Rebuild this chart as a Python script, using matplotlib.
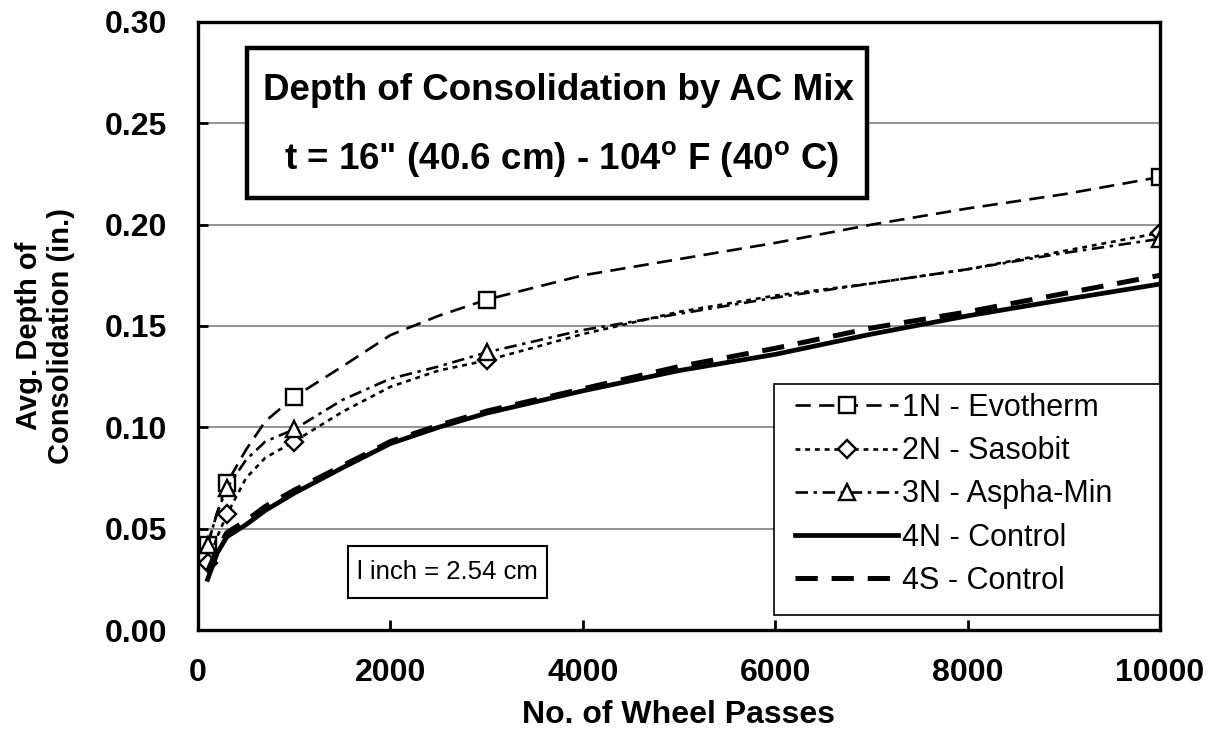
import matplotlib
matplotlib.use("Agg")
import matplotlib.pyplot as plt
from matplotlib.patches import Rectangle

plt.rcParams['font.family'] = ['Liberation Sans', 'DejaVu Sans']
plt.rcParams['mathtext.fontset'] = 'custom'
plt.rcParams['mathtext.rm'] = 'Liberation Sans:bold'
plt.rcParams['mathtext.it'] = 'Liberation Sans:bold'
plt.rcParams['mathtext.bf'] = 'Liberation Sans:bold'
plt.rcParams['lines.scale_dashes'] = False

# Wheel passes and average consolidation depth (in.) for each mix
passes = [100, 200, 300, 500, 700, 1000, 1500, 2000, 2500, 3000,
          4000, 5000, 6000, 7000, 8000, 9000, 10000]
evotherm_1n = [0.042, 0.058, 0.0725, 0.089, 0.103, 0.115, 0.130, 0.1455, 0.155, 0.163,
               0.175, 0.183, 0.191, 0.200, 0.208, 0.215, 0.2235]
sasobit_2n = [0.033, 0.046, 0.057, 0.075, 0.085, 0.093, 0.1076, 0.120, 0.128, 0.133,
              0.146, 0.157, 0.165, 0.171, 0.178, 0.187, 0.196]
asphamin_3n = [0.042, 0.058, 0.070, 0.084, 0.093, 0.099, 0.1135, 0.124, 0.130, 0.137,
               0.148, 0.156, 0.164, 0.171, 0.178, 0.186, 0.193]
control_4n = [0.025, 0.038, 0.046, 0.052, 0.059, 0.0675, 0.080, 0.092, 0.100, 0.107,
              0.118, 0.128, 0.136, 0.146, 0.155, 0.163, 0.1707]
control_4s = [0.029, 0.040, 0.048, 0.054, 0.061, 0.069, 0.081, 0.093, 0.101, 0.108,
              0.119, 0.130, 0.139, 0.149, 0.157, 0.166, 0.175]
# measured passes that carry a marker
marker_idx = [0, 2, 5, 9, 16]

x_ticks = [0, 2000, 4000, 6000, 8000, 10000]
y_ticks = [0.00, 0.05, 0.10, 0.15, 0.20, 0.25, 0.30]

W, H = 1217, 740
fig = plt.figure(figsize=(W / 100, H / 100), dpi=100)
ax = fig.add_axes([198 / W, 1 - 630 / H, 962 / W, 608 / H])

ax.set_xlim(0, 10000)
ax.set_ylim(0, 0.30)
ax.yaxis.grid(True, color='#808080', lw=1.2)
ax.set_axisbelow(True)

mk = dict(markerfacecolor='white', markeredgecolor='black', markeredgewidth=1.7,
          markevery=marker_idx)
ax.plot(passes, evotherm_1n, color='black', lw=1.9, dashes=(11, 6), marker='s',
        markersize=11.5, label='1N - Evotherm', **mk)
ax.plot(passes, sasobit_2n, color='black', lw=1.9, dashes=(3.5, 3.5), marker='D',
        markersize=9, label='2N - Sasobit', **mk)
ax.plot(passes, asphamin_3n, color='black', lw=1.9, dashes=(9, 4, 2.5, 4), marker='^',
        markersize=11.5, label='3N - Aspha-Min', **mk)
ax.plot(passes, control_4n, color='black', lw=3.4, label='4N - Control')
ax.plot(passes, control_4s, color='black', lw=3.6, dashes=(16, 10), label='4S - Control')

ax.set_xticks(x_ticks)
ax.set_xticklabels([f"{v:d}" for v in x_ticks])
ax.set_yticks(y_ticks)
ax.set_yticklabels([f"{v:.2f}" for v in y_ticks])
ax.tick_params(axis='both', direction='in', length=7, width=2, labelsize=23, colors='black')
ax.tick_params(axis='x', pad=20)
ax.tick_params(axis='y', pad=22)
for lab in ax.get_xticklabels() + ax.get_yticklabels():
    lab.set_fontweight('bold')
for sp in ax.spines.values():
    sp.set_linewidth(2.4)
    sp.set_color('black')

fig.text(679 / W, 1 - 715 / H, 'No. of Wheel Passes', ha='center', va='center',
         fontsize=23, fontweight='bold')
fig.text(45 / W, 1 - 336 / H, 'Avg. Depth of\nConsolidation (in.)', ha='center',
         va='center', rotation=90, fontsize=21, fontweight='bold', linespacing=1.22)

# Title box
ax.add_patch(Rectangle((0.0509, 0.7105), 0.6445, 0.2467, transform=ax.transAxes,
                       facecolor='white', edgecolor='black', lw=3.2, zorder=5,
                       clip_on=False))
ax.text(0.375, 0.888, 'Depth of Consolidation by AC Mix', transform=ax.transAxes,
        ha='center', va='center', fontsize=26.5, fontweight='bold', zorder=6)
ax.text(0.378, 0.775, "t = 16\" (40.6 cm) - 104$^{\\mathrm{o}}$ F (40$^{\\mathrm{o}}$ C)",
        transform=ax.transAxes, ha='center', va='center', fontsize=26.5,
        fontweight='bold', zorder=6)

# Unit conversion note
ax.add_patch(Rectangle((0.156, 0.0526), 0.2069, 0.0855, transform=ax.transAxes,
                       facecolor='white', edgecolor='black', lw=1.5, zorder=5))
ax.text(0.156 + 0.2069 / 2, 0.0526 + 0.0855 / 2, 'l inch = 2.54 cm',
        transform=ax.transAxes, ha='center', va='center', fontsize=18.5, zorder=6)

# Legend panel: white box with the entries laid out inside it
ax.add_patch(Rectangle((0.5988, 0.0247), 0.4012, 0.3799, transform=ax.transAxes,
                       facecolor='white', edgecolor='black', lw=1.2, zorder=6))
leg = ax.legend(loc='upper left', bbox_to_anchor=(0.6112, 0.4046), fontsize=22,
                frameon=False, borderpad=0.3, labelspacing=0.43,
                handlelength=3.37, handletextpad=0.13, borderaxespad=0, numpoints=1)
leg.set_zorder(7)

fig.savefig('out.png', dpi=100)
